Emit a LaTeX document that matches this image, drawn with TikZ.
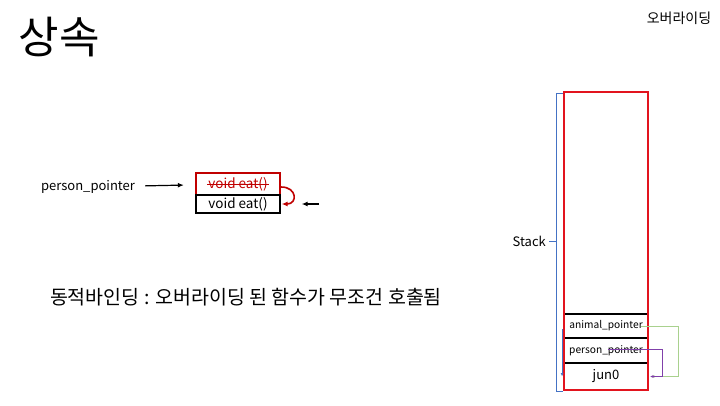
\documentclass[tikz,border=0pt]{standalone}
\usepackage{fontspec}
\setmainfont{Noto Sans CJK KR}
\usepackage{xcolor}
\usetikzlibrary{arrows.meta,positioning,calc}
\definecolor{boxred}{RGB}{192,0,0}
\definecolor{stackred}{RGB}{226,20,30}
\definecolor{brblue}{RGB}{68,114,196}
\definecolor{ptrgreen}{RGB}{169,209,142}
\definecolor{ptrpurple}{RGB}{128,64,170}

\begin{document}
\begin{tikzpicture}[x=1pt,y=-1pt,
  txt/.style={inner sep=1pt,font=\fontsize{13}{15}\selectfont},
  fnbox/.style={draw,line width=1.4pt,minimum width=84pt,inner sep=0pt,font=\fontsize{13.5}{15}\selectfont},
  row/.style={draw,line width=1.8pt,minimum width=84pt,inner sep=0pt,font=\fontsize{10.2}{12}\selectfont},
  ptr/.style={-{Latex[length=6pt,width=5pt]},line width=1.2pt},
  thin ptr/.style={-{Latex[length=3.5pt,width=3pt]},line width=0.9pt},
  bracket/.style={brblue,line width=0.8pt}]
\useasboundingbox (0,0) rectangle (720,405);

\node[font=\fontsize{44}{52}\selectfont] (title) at (59,37) {상속};
\node[font=\fontsize{14}{16}\selectfont] (subtitle) at (679,18) {오버라이딩};

\node[txt] (pp) at (88,187) {person\_pointer};
\node[fnbox,draw=boxred,line width=2.4pt,minimum height=22pt] (oldeat) at (238,184) {};
\node[inner sep=1pt,font=\fontsize{13.5}{15}\selectfont,text=boxred] (oldtext) at (oldeat) {void eat()};
\draw[boxred,line width=1pt] (oldtext.west) -- (oldtext.east);
\node[fnbox,minimum height=18pt] (neweat) at (238,204) {void eat()};
\coordinate (ptrtail) at (319,204);

\draw[ptr,shorten <=9pt,shorten >=11pt] (pp) -- (oldeat);
\draw[ptr,boxred,line width=1.6pt] ([yshift=-3]oldeat.east) to[out=0,in=0,looseness=2.4] ([xshift=1]neweat.east);
\draw[ptr,shorten >=21pt] (ptrtail) -- (neweat.east);

\node[font=\fontsize{19.5}{22}\selectfont] (binding) at (246,297) {동적바인딩 : 오버라이딩 된 함수가 무조건 호출됨};

\node[row] (animal) at (606,326) [minimum height=24pt] {animal\_pointer};
\node[row] (person) at (606,350.5) [minimum height=25pt] {person\_pointer};
\node[row,draw=none,font=\fontsize{13}{15}\selectfont] (jun) at (606,376.5) [minimum height=27pt] {jun0};
\node[draw=stackred,line width=2pt,minimum width=84pt,minimum height=298pt] (stack) at (606,241) {};

\draw[bracket] ([yshift=-2]stack.north west) -- ++(-7,0) coordinate (brtop)
  -- ([xshift=-7]stack.south west) -- (stack.south west);
\draw[bracket] ([xshift=-7]stack.west) -- ++(-7,0) coordinate (brtick);
\node[txt,left=2pt of brtick] (stacklabel) {Stack};

\draw[thin ptr,brblue] ([xshift=-1,yshift=-3]animal.west) -- ([xshift=-1]jun.west);
\draw[thin ptr,ptrgreen] ([xshift=-8]animal.east) -- ++(38,0) |- ([xshift=2]jun.east);
\draw[thin ptr,ptrpurple] ([xshift=2,yshift=1.5]person.center) -- ++(54,0) |- ([xshift=1]jun.east);
\end{tikzpicture}
\end{document}
